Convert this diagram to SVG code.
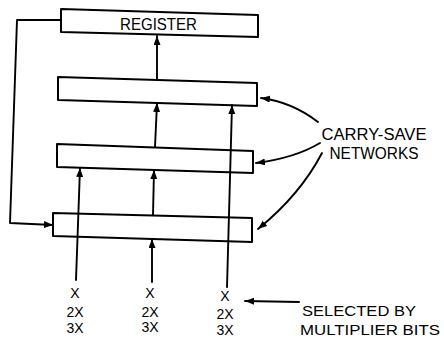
<svg xmlns="http://www.w3.org/2000/svg" width="444" height="338" viewBox="0 0 444 338">
  <style>
    .box { fill: #ffffff; stroke: #000000; stroke-width: 2; stroke-linejoin: round; }
    .wire { fill: none; stroke: #000000; stroke-width: 1.9; stroke-linecap: round; stroke-linejoin: round; }
    .lbl { font-family: "Liberation Sans", Arial, sans-serif; fill: #000000; }
    .in { font-size: 14px; text-anchor: middle; }
  </style>
  <defs>
    <marker id="ah" markerUnits="userSpaceOnUse" markerWidth="10" markerHeight="8" refX="9" refY="3.5" orient="auto">
      <path d="M0,0 L9,3.5 L0,7 z" fill="#000000"/>
    </marker>
  </defs>
  <rect width="444" height="338" fill="#ffffff"/>

  <g id="register">
    <polygon class="box" points="61,9 258,15 258,37 61,32"/>
    <text class="lbl" x="158.5" y="30" font-size="16" text-anchor="middle" textLength="77" lengthAdjust="spacingAndGlyphs">REGISTER</text>
  </g>
  <g id="csn1">
    <polygon class="box" points="58,77 257,83 257,106 58,100"/>
  </g>
  <g id="csn2">
    <polygon class="box" points="57,144 253,151 253,173 57,167"/>
  </g>
  <g id="csn3">
    <polygon class="box" points="53,213 252,218 252,242 53,236"/>
  </g>

  <g id="connectors">
    <polyline class="wire" points="61,20 17,20 10,223 53,225" marker-end="url(#ah)"/>
    <line class="wire" x1="157" y1="80" x2="157" y2="36" marker-end="url(#ah)"/>
    <line class="wire" x1="155" y1="147" x2="157" y2="103" marker-end="url(#ah)"/>
    <line class="wire" x1="153" y1="215" x2="154" y2="170" marker-end="url(#ah)"/>
    <line class="wire" x1="76" y1="280" x2="80" y2="168" marker-end="url(#ah)"/>
    <line class="wire" x1="152" y1="282" x2="152" y2="239" marker-end="url(#ah)"/>
    <line class="wire" x1="227" y1="287" x2="232" y2="105" marker-end="url(#ah)"/>
    <path class="wire" d="M318,122 Q292,102 261,98" marker-end="url(#ah)"/>
    <path class="wire" d="M320,143 Q295,158 256,163" marker-end="url(#ah)"/>
    <path class="wire" d="M322,153 Q300,195 258,229" marker-end="url(#ah)"/>
    <line class="wire" x1="299" y1="302" x2="245" y2="301" marker-end="url(#ah)"/>
  </g>

  <g id="inputs">
    <text class="lbl in" x="75" y="298">X</text>
    <text class="lbl in" x="75" y="317">2X</text>
    <text class="lbl in" x="75" y="333">3X</text>
    <text class="lbl in" x="150" y="298">X</text>
    <text class="lbl in" x="150" y="317">2X</text>
    <text class="lbl in" x="150" y="332">3X</text>
    <text class="lbl in" x="225" y="301">X</text>
    <text class="lbl in" x="225" y="319">2X</text>
    <text class="lbl in" x="225" y="335">3X</text>
  </g>

  <g id="labels">
    <text class="lbl" x="374" y="140" font-size="16" text-anchor="middle" textLength="105" lengthAdjust="spacingAndGlyphs">CARRY-SAVE</text>
    <text class="lbl" x="374" y="159" font-size="16" text-anchor="middle" textLength="89" lengthAdjust="spacingAndGlyphs">NETWORKS</text>
    <text class="lbl" x="302" y="316" font-size="15" textLength="114" lengthAdjust="spacingAndGlyphs">SELECTED BY</text>
    <text class="lbl" x="300" y="335" font-size="15" textLength="140" lengthAdjust="spacingAndGlyphs">MULTIPLIER BITS</text>
  </g>
</svg>
